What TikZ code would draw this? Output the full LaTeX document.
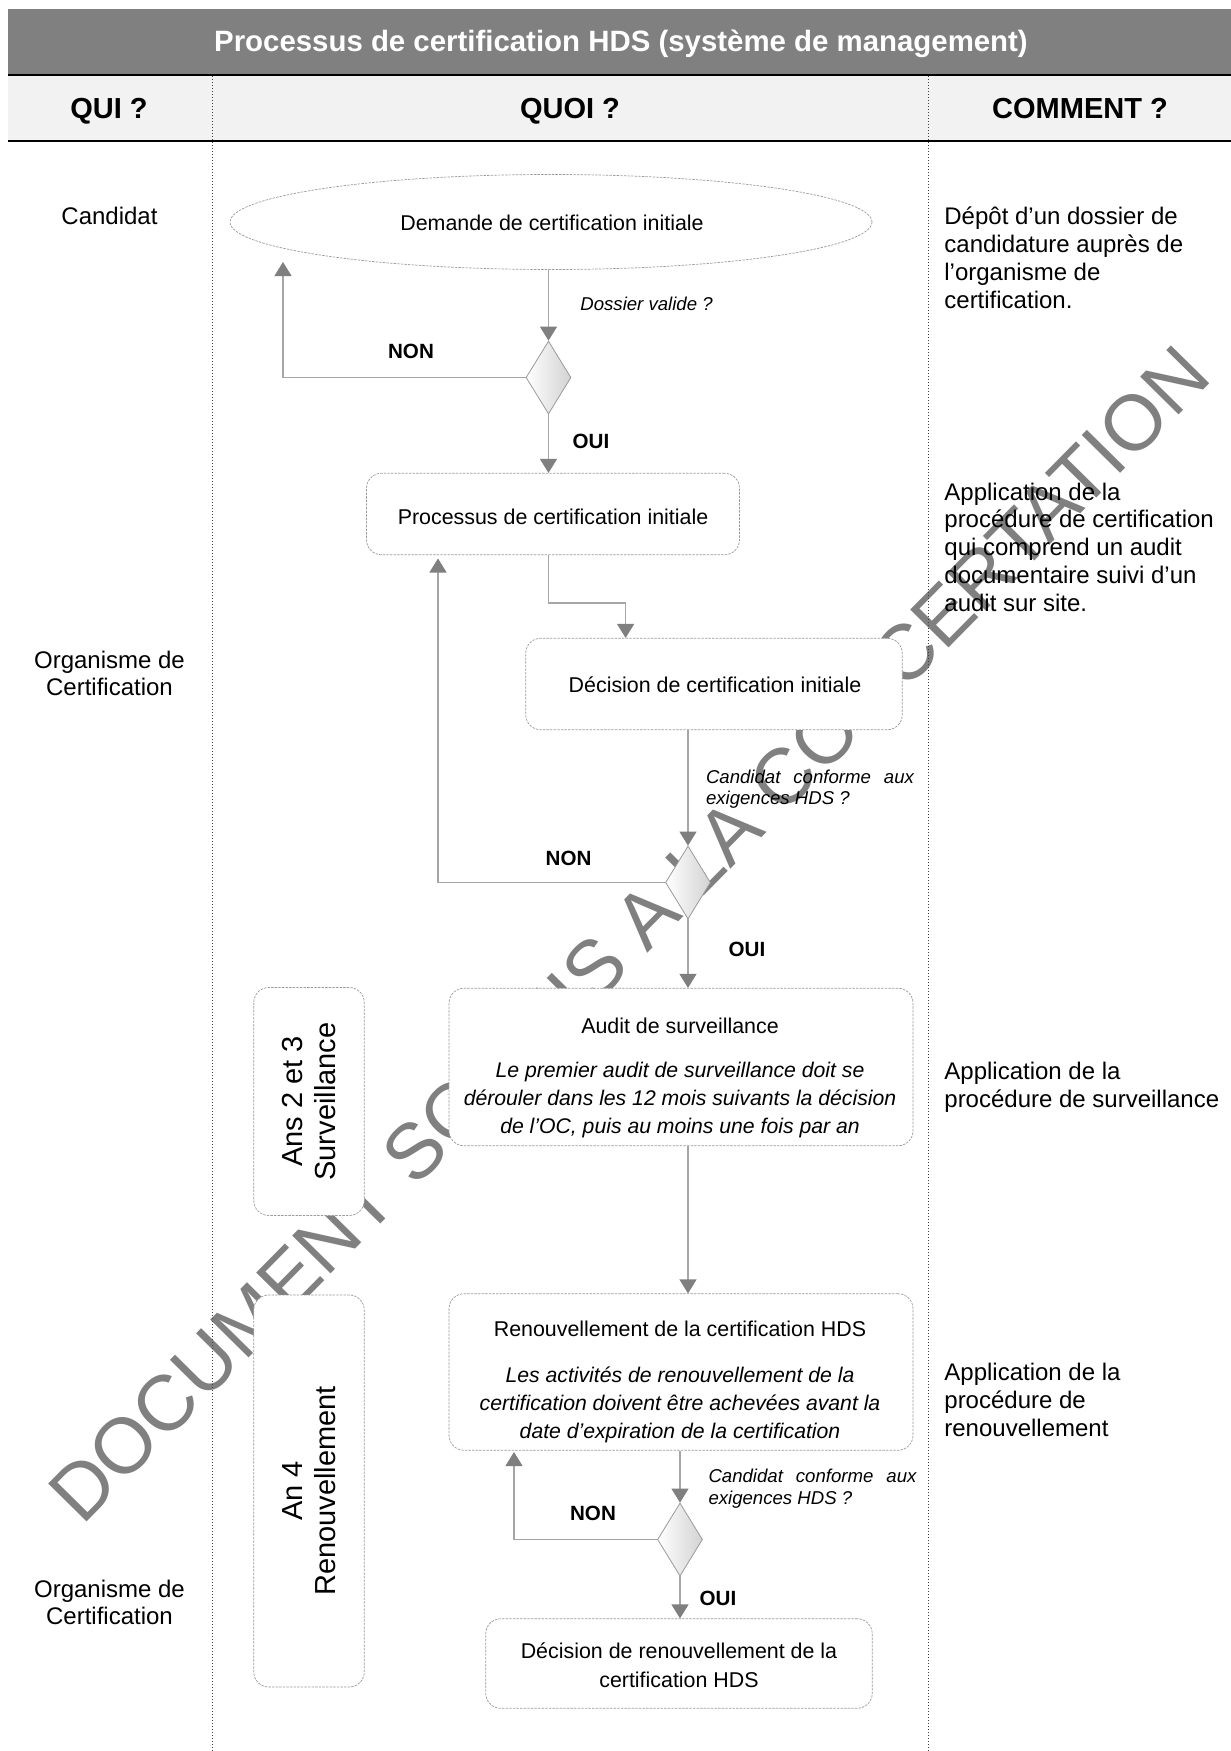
\documentclass[tikz,border=0pt]{standalone}
\usepackage{fontspec}
\setmainfont{Liberation Sans}
\usetikzlibrary{arrows.meta,shapes.geometric}
\definecolor{band}{HTML}{808080}
\definecolor{hdr}{HTML}{F2F2F2}
\definecolor{linegray}{HTML}{A6A6A6}
\definecolor{tipgray}{HTML}{7F7F7F}
\definecolor{boxgray}{HTML}{9A9A9A}
\definecolor{wm}{HTML}{808080}
\tikzset{
 flowbox/.style={draw=boxgray, dash pattern=on 1.2pt off 0.6pt, line width=0.35pt, rounded corners=7.5pt, fill=white, inner sep=0pt},
 ellbox/.style={ellipse, draw=boxgray, dash pattern=on 1.2pt off 0.6pt, line width=0.35pt, fill=white, inner sep=0pt},
 decision/.style={diamond, draw=boxgray, line width=0.4pt, left color=white, right color=gray!35, inner sep=0pt, minimum width=22.5pt, minimum height=36.5pt},
 arr/.style={draw=linegray, line width=0.6pt, -{Triangle[length=7pt,width=8.5pt,color=tipgray]}},
 boxtxt/.style={font=\fontsize{10.7}{14.5}\selectfont, align=center, inner sep=0pt},
 ittxt/.style={font=\fontsize{10.6}{14}\selectfont\itshape, inner sep=0pt, align=center},
 qtxt/.style={font=\fontsize{9.3}{10.6}\selectfont\itshape, inner sep=0pt},
 yn/.style={font=\fontsize{10.3}{12}\selectfont\bfseries, inner sep=0pt},
 coltxt/.style={font=\fontsize{12}{13.95}\selectfont, inner sep=0pt, align=left, anchor=west},
 whotxt/.style={font=\fontsize{12}{13.5}\selectfont, inner sep=0pt, align=center},
 hdrtxt/.style={font=\fontsize{14.5}{17}\selectfont\bfseries, inner sep=0pt, anchor=base},
 sidebox/.style={flowbox, rotate=90, font=\fontsize{14.5}{16.2}\selectfont, align=center},
}
\begin{document}
\begin{tikzpicture}[x=0.5pt,y=-0.5pt]
\useasboundingbox (0,0) rectangle (1231,1751);
\fill[white] (0,0) rectangle (1231,1751);
% watermark (behind)
\node[rotate=45.4, anchor=base, text=wm, font=\fontsize{39.2}{40}\selectfont, inner sep=0pt] (watermark) at (648,953) {DOCUMENT SOUMIS A LA CONCERTATION};
% header
\fill[band] (8,9) rectangle (1231,74);
\fill[hdr] (8,76) rectangle (1231,140);
\draw[densely dotted, line width=0.5pt, black!75] (212,76) -- (212,1751);
\draw[densely dotted, line width=0.5pt, black!75] (928,76) -- (928,1751);
\draw[line width=1.4pt] (8,75) -- (1231,75);
\draw[line width=1.4pt] (8,141) -- (1231,141);
\node[font=\fontsize{14.7}{17}\selectfont\bfseries, text=white, inner sep=0pt, anchor=base] (title) at (621,51.8) {Processus de certification HDS (système de management)};
\node[hdrtxt] (hqui) at (109,118.4) {QUI ?};
\node[hdrtxt] (hquoi) at (570,118.4) {QUOI ?};
\node[hdrtxt] (hcomment) at (1080,118.4) {COMMENT ?};
% left column
\node[whotxt] (qui1) at (109.5,215.6) {Candidat};
\node[whotxt] (qui2) at (109.5,673.5) {Organisme de\\Certification};
\node[whotxt] (qui3) at (109.5,1602) {Organisme de\\Certification};
% right column
\node[coltxt] (com1) at (944,257.5) {Dépôt d’un dossier de\\candidature auprès de\\l’organisme de\\certification.};
\node[coltxt] (com2) at (944,547.3) {Application de la\\procédure de certification\\qui comprend un audit\\documentaire suivi d’un\\audit sur site.};
\node[coltxt] (com3) at (944,1087.2) {Application de la\\procédure de surveillance};
\node[coltxt] (com4) at (944,1400) {Application de la\\procédure de\\renouvellement};
% flow nodes
\node[ellbox, minimum width=321pt, minimum height=47.5pt] (ell) at (551,222) {};
\node[boxtxt, anchor=base] (ellt) at (552,230) {Demande de certification initiale};
\node[decision] (d1) at (548.5,377.5) {};
\node[flowbox, minimum width=186.5pt, minimum height=40.75pt] (b1) at (553,514) {};
\node[boxtxt, anchor=base] (b1t) at (553,524.9) {Processus de certification initiale};
\node[flowbox, minimum width=188.25pt, minimum height=45.75pt] (b2) at (714,684) {};
\node[boxtxt, anchor=base] (b2t) at (715,692.5) {Décision de certification initiale};
\node[decision] (d2) at (688,882.5) {};
\node[flowbox, minimum width=232pt, minimum height=78.75pt] (b3) at (681,1067) {};
\node[boxtxt] (b3t) at (680,1025.5) {Audit de surveillance};
\node[ittxt] (b3i) at (680,1100.2) {Le premier audit de surveillance doit se\\dérouler dans les 12 mois suivants la décision\\de l’OC, puis au moins une fois par an};
\node[flowbox, minimum width=232pt, minimum height=78.25pt] (b4) at (681,1372) {};
\node[boxtxt] (b4t) at (680,1329) {Renouvellement de la certification HDS};
\node[ittxt] (b4i) at (680,1404.9) {Les activités de renouvellement de la\\certification doivent être achevées avant la\\date d’expiration de la certification};
\node[decision] (d3) at (680,1539.5) {};
\node[flowbox, minimum width=193.25pt, minimum height=44.75pt] (b5) at (679,1663.5) {};
\node[boxtxt] (b5t) at (679,1665.7) {Décision de renouvellement de la\\certification HDS};
\node[sidebox, minimum width=114pt, minimum height=55.25pt] (ans) at (309,1101.5) {Ans 2 et 3\\Surveillance};
\node[sidebox, minimum width=196pt, minimum height=55.25pt] (an4) at (309,1491) {An 4\\Renouvellement};
% labels
\node[qtxt, anchor=west] (q1) at (580,303.8) {Dossier valide ?};
\node[qtxt, text width=104pt, align=justify] (q2) at (810,789) {Candidat conforme aux exigences HDS ?};
\node[qtxt, text width=104pt, align=justify] (q3) at (812.5,1488.6) {Candidat conforme aux exigences HDS ?};
\node[yn] (non1) at (411,351) {NON};
\node[yn] (oui1) at (591,441) {OUI};
\node[yn] (non2) at (568.6,858) {NON};
\node[yn] (oui2) at (747,949.5) {OUI};
\node[yn] (non3) at (593,1513.7) {NON};
\node[yn] (oui3) at (718,1598.6) {OUI};
% connectors
\coordinate (n1) at (283,262);
\coordinate (k1) at (625.6,603);
\coordinate (n2) at (438,558.5);
\coordinate (n3) at (514,1452);
\draw[arr] (d1.north |- ell.south) -- (d1.north);
\draw[arr] (d1.west) -| (n1);
\draw[arr] (d1.south) -- (d1.south |- b1.north);
\draw[arr] (d1.south |- b1.south) |- (k1) -- (k1 |- b2.north);
\draw[arr] (d2.north |- b2.south) -- (d2.north);
\draw[arr] (d2.west) -| (n2);
\draw[arr] (d2.south) -- (d2.south |- b3.north);
\draw[arr] (d2.south |- b3.south) -- (d2.south |- b4.north);
\draw[arr] (d3.north |- b4.south) -- (d3.north);
\draw[arr] (d3.west) -| (n3);
\draw[arr] (d3.south) -- (d3.south |- b5.north);
\end{tikzpicture}
\end{document}
